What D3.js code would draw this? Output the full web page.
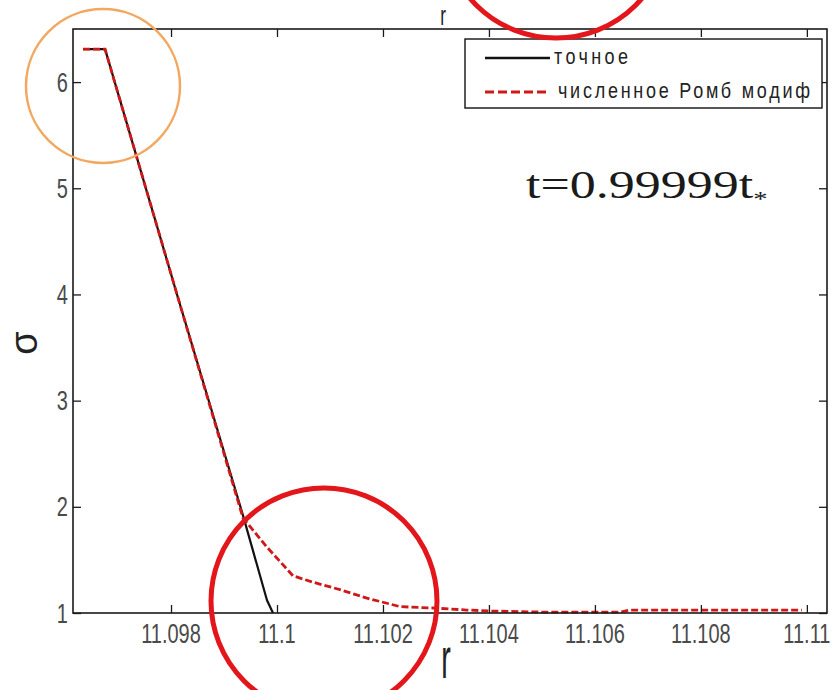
<!DOCTYPE html>
<html>
<head>
<meta charset="utf-8">
<script src="https://cdn.jsdelivr.net/npm/d3@7"></script>
<style>
  html, body { margin: 0; padding: 0; background: #fff; }
  svg { display: block; }
</style>
</head>
<body>
<svg id="chart" width="832" height="690"></svg>
<script>
// Exact solution (точное)
const exactR     = [11.09634, 11.096755, 11.098113, 11.099358, 11.099811, 11.099925];
const exactSigma = [6.31, 6.31, 4.0, 1.92, 1.12, 1.0];

// Numerical solution (численное Ромб модиф)
const numR = [11.09634, 11.096755, 11.098113, 11.099358, 11.099811, 11.100302, 11.100679,
              11.101189, 11.101698, 11.102321, 11.102943, 11.103585, 11.104, 11.104962,
              11.106472, 11.10666, 11.109906];
const numSigma = [6.31, 6.31, 4.0, 1.895, 1.62, 1.35, 1.29,
                  1.22, 1.14, 1.06, 1.047, 1.028, 1.019, 1.009,
                  1.009, 1.028, 1.028];

const xTicks = [11.098, 11.1, 11.102, 11.104, 11.106, 11.108, 11.11];
const xTickLabels = ["11.098", "11.1", "11.102", "11.104", "11.106", "11.108", "11.11"];
const yTicks = [1, 2, 3, 4, 5, 6];
const yTickLabels = ["1", "2", "3", "4", "5", "6"];
const legendLabels = ["точное", "численное Ромб модиф"];

const svg = d3.select("#chart");
const box = { left: 73, right: 827, top: 29, bottom: 613 };

const x = d3.scaleLinear().domain([11.09615, 11.11038]).range([box.left, box.right]);
const y = d3.scaleLinear().domain([1, 6.5]).range([box.bottom, box.top]);

const axisColor = "#1a1a1a";
const labelColor = "#4a4a4a";
const font = "'Liberation Sans', Arial, sans-serif";

// stretched text helper: draws text at (px,py) scaled by (sx,sy)
function stretchedText(parent, px, py, sx, sy, str) {
  const g = parent.append("g").attr("transform", `translate(${px},${py}) scale(${sx},${sy})`);
  return g.append("text").attr("x", 0).attr("y", 0).text(str);
}

// curves
const line = d3.line().x(d => x(d[0])).y(d => y(d[1]));
const exactData = exactR.map((r, i) => [r, exactSigma[i]]);
const numData = numR.map((r, i) => [r, numSigma[i]]);

svg.append("path").datum(exactData).attr("d", line)
  .attr("fill", "none").attr("stroke", "#111").attr("stroke-width", 2.2)
  .attr("stroke-linejoin", "round");
svg.append("path").datum(numData).attr("d", line)
  .attr("fill", "none").attr("stroke", "#d01818").attr("stroke-width", 2.8)
  .attr("stroke-dasharray", "7,3");

// axes frame with inward ticks on all sides
const tickLen = 8;
const axisG = svg.append("g");
const xb = d3.axisBottom(x).tickValues(xTicks).tickSize(-tickLen).tickFormat("");
const xt = d3.axisTop(x).tickValues(xTicks).tickSize(-tickLen).tickFormat("");
const yl = d3.axisLeft(y).tickValues(yTicks).tickSize(-tickLen).tickFormat("");
const yr = d3.axisRight(y).tickValues(yTicks).tickSize(-tickLen).tickFormat("");
axisG.append("g").attr("transform", `translate(0,${box.bottom})`).call(xb);
axisG.append("g").attr("transform", `translate(0,${box.top})`).call(xt);
axisG.append("g").attr("transform", `translate(${box.left},0)`).call(yl);
axisG.append("g").attr("transform", `translate(${box.right},0)`).call(yr);
axisG.selectAll(".domain").remove();
axisG.selectAll("line").attr("stroke", axisColor).attr("stroke-width", 1.3);
axisG.append("rect")
  .attr("x", box.left).attr("y", box.top)
  .attr("width", box.right - box.left).attr("height", box.bottom - box.top)
  .attr("fill", "none").attr("stroke", axisColor).attr("stroke-width", 1.6);

// tick labels
const tickLabelG = svg.append("g").attr("font-family", font).attr("font-size", 20).attr("fill", labelColor);
xTicks.forEach((v, i) => {
  stretchedText(tickLabelG, x(v), 643, 1, 1.35, xTickLabels[i]).attr("text-anchor", "middle");
});
yTicks.forEach((v, i) => {
  stretchedText(tickLabelG, 68, y(v) + 9.5, 1, 1.35, yTickLabels[i]).attr("text-anchor", "end");
});

// axis titles
stretchedText(svg, 446, 678, 0.95, 1.9, "r")
  .attr("font-family", font).attr("font-size", 30).attr("fill", "#222").attr("text-anchor", "middle");
stretchedText(svg, 443, 25, 0.95, 1.5, "r")
  .attr("font-family", font).attr("font-size", 18).attr("fill", "#222").attr("text-anchor", "middle");
svg.append("text")
  .attr("transform", "translate(37,343) rotate(-90)")
  .attr("font-family", font).attr("font-size", 38).attr("fill", "#222")
  .attr("text-anchor", "middle").text("σ");

// legend
const leg = svg.append("g");
leg.append("rect").attr("x", 465).attr("y", 39).attr("width", 357).attr("height", 69)
  .attr("fill", "#fff").attr("stroke", "#111").attr("stroke-width", 1.4);
leg.append("line").attr("x1", 485).attr("x2", 550).attr("y1", 58).attr("y2", 58)
  .attr("stroke", "#111").attr("stroke-width", 2.4);
leg.append("line").attr("x1", 485).attr("x2", 550).attr("y1", 92).attr("y2", 92)
  .attr("stroke", "#d01818").attr("stroke-width", 2.8).attr("stroke-dasharray", "9,4");
stretchedText(leg, 554, 64, 1, 1.25, legendLabels[0])
  .attr("font-family", font).attr("font-size", 18).attr("fill", "#222")
  .attr("textLength", 74).attr("lengthAdjust", "spacing");
stretchedText(leg, 558, 98, 1, 1.25, legendLabels[1])
  .attr("font-family", font).attr("font-size", 18).attr("fill", "#222")
  .attr("textLength", 252).attr("lengthAdjust", "spacing");

// time annotation
const ann = svg.append("g").attr("transform", "translate(526,198) scale(1.3,1)");
const annText = ann.append("text").attr("font-family", "'Liberation Serif', 'Times New Roman', serif")
  .attr("font-size", 40).attr("fill", "#1a1a1a");
annText.append("tspan").text("t=0.99999t");
annText.append("tspan").attr("font-size", 22).attr("dy", 8).text("*");

// highlight circles
svg.append("circle").attr("cx", 103).attr("cy", 86).attr("r", 77)
  .attr("fill", "none").attr("stroke", "#f2a860").attr("stroke-width", 2.5);
svg.append("circle").attr("cx", 324).attr("cy", 601).attr("r", 113)
  .attr("fill", "none").attr("stroke", "#e3161b").attr("stroke-width", 5);
svg.append("circle").attr("cx", 556).attr("cy", -75).attr("r", 113)
  .attr("fill", "none").attr("stroke", "#e3161b").attr("stroke-width", 5);
</script>
</body>
</html>
